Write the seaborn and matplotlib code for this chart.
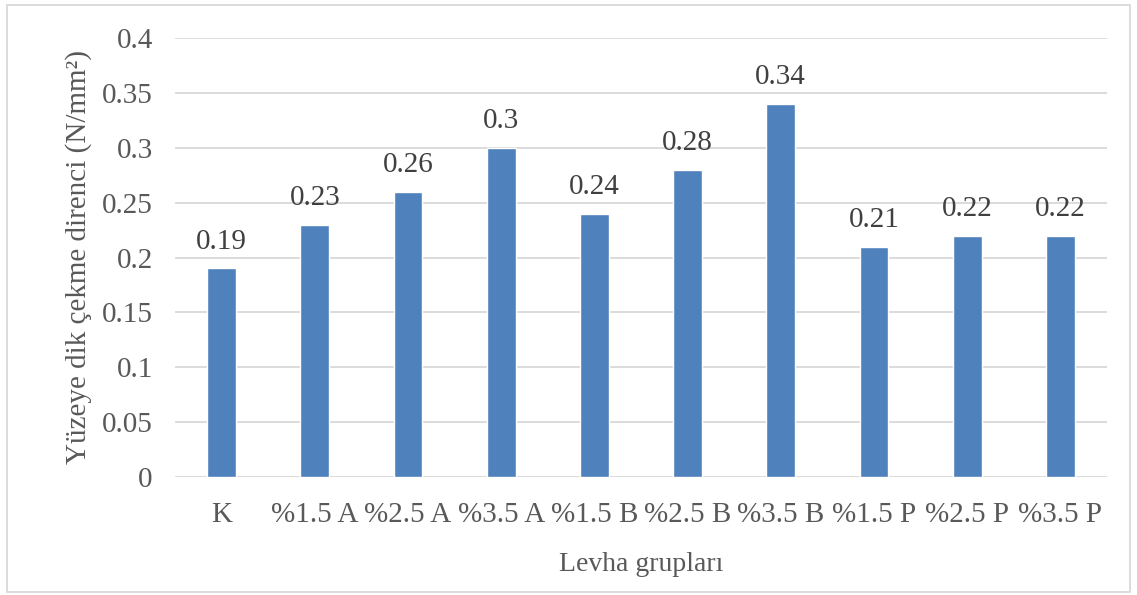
import matplotlib
matplotlib.use("Agg")
import matplotlib.pyplot as plt
from matplotlib.patches import Rectangle
import seaborn as sns
import pandas as pd

groups = ["K", "%1.5 A", "%2.5 A", "%3.5 A", "%1.5 B", "%2.5 B", "%3.5 B",
          "%1.5 P", "%2.5 P", "%3.5 P"]
strength = [0.19, 0.23, 0.26, 0.30, 0.24, 0.28, 0.34, 0.21, 0.22, 0.22]
value_labels = ["0.19", "0.23", "0.26", "0.3", "0.24", "0.28", "0.34", "0.21", "0.22", "0.22"]
y_ticks = [0, 0.05, 0.1, 0.15, 0.2, 0.25, 0.3, 0.35, 0.4]
y_tick_labels = ["0", "0.05", "0.1", "0.15", "0.2", "0.25", "0.3", "0.35", "0.4"]

sns.set_theme(style="white")
plt.rcParams["font.family"] = ["Liberation Serif", "DejaVu Serif"]

text_color = "#595959"
grid_color = "#D9D9D9"
bar_color = "#4F81BD"

W, H = 1137, 595
fig = plt.figure(figsize=(W / 100, H / 100), dpi=100)
fig.patch.set_facecolor("white")

# outer chart frame
fig.patches.append(Rectangle((7 / W, 3 / H), 1123 / W, 587 / H, transform=fig.transFigure,
                             fill=False, edgecolor=grid_color, linewidth=1.3))

ax = fig.add_axes([175 / W, 118 / H, 932 / W, 439 / H])
df = pd.DataFrame({"group": groups, "value": strength})
sns.barplot(data=df, x="group", y="value", order=groups, color=bar_color,
            width=0.31, saturation=1, ax=ax, zorder=3)

ax.set_ylim(0, 0.4)
ax.set_xlim(-0.5, len(groups) - 0.5)
ax.set_yticks(y_ticks)
ax.set_yticklabels(y_tick_labels)
ax.yaxis.grid(True, color=grid_color, linewidth=1.3, zorder=0)
ax.xaxis.grid(False)
for s in ax.spines.values():
    s.set_visible(False)
ax.tick_params(axis="both", length=0, labelsize=21, colors=text_color)
ax.tick_params(axis="y", pad=16)
ax.tick_params(axis="x", pad=18)

ax.bar_label(ax.containers[0], labels=value_labels, padding=10, fontsize=21,
             color="#404040")

ax.set_xlabel("Levha grupları", fontsize=20, color=text_color, labelpad=17)
ax.set_ylabel("Yüzeye dik çekme direnci (N/mm²)", fontsize=21, color=text_color, labelpad=7)

fig.savefig("out.png", dpi=100, facecolor="white")
